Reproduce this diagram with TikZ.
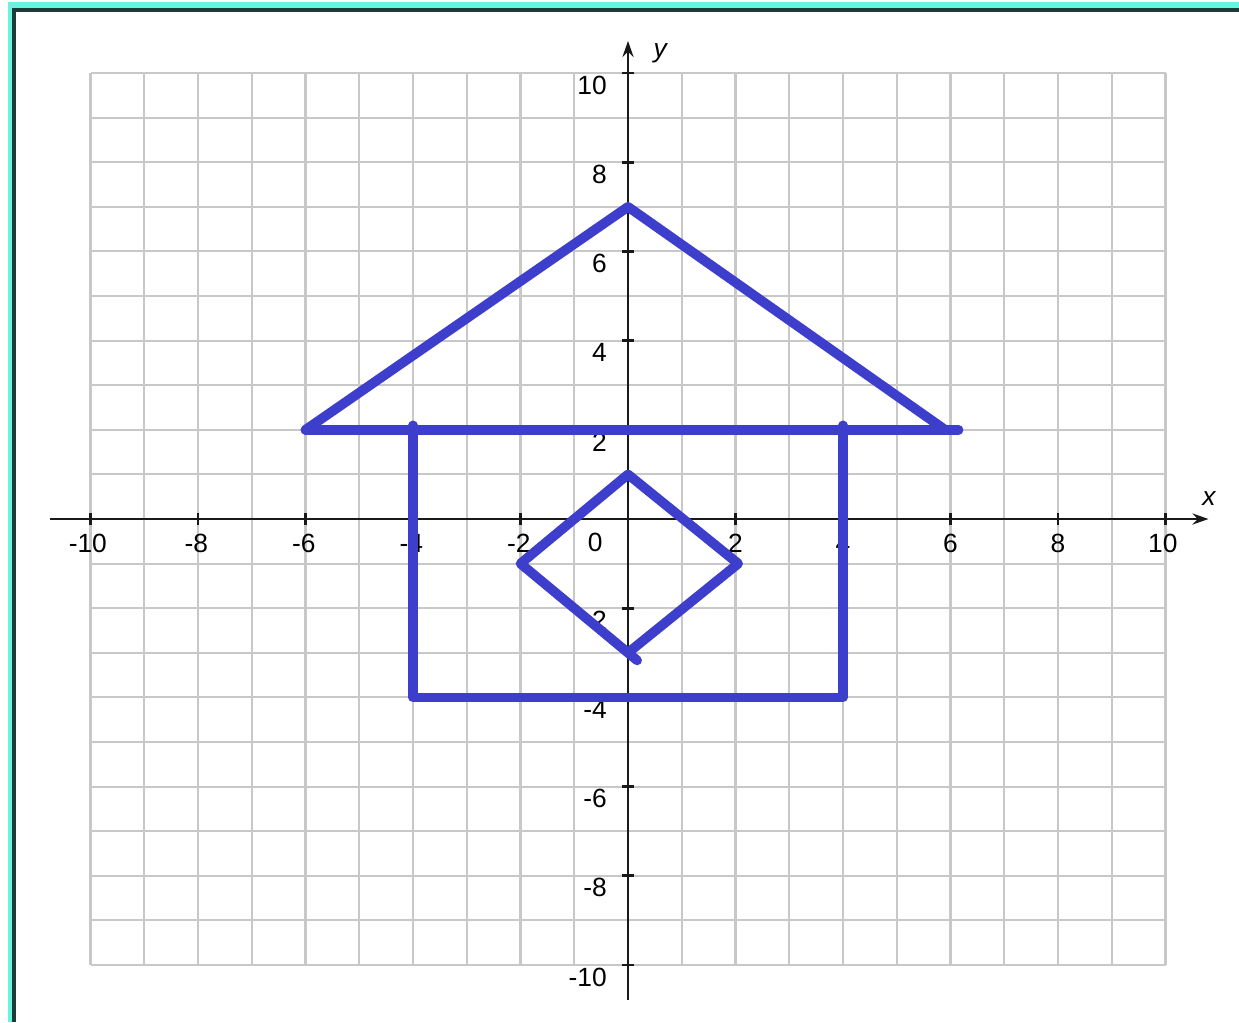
\documentclass[tikz,border=0pt]{standalone}
\usepackage{fontspec}
\setmainfont{Liberation Sans}
\usetikzlibrary{arrows.meta}
\definecolor{houseblue}{RGB}{62,62,204}
\definecolor{gridgray}{RGB}{200,200,200}
\definecolor{frameteal}{RGB}{102,245,224}
\definecolor{framedark}{RGB}{31,59,56}
\begin{document}
\begin{tikzpicture}[x=1.075cm,y=0.892cm,line width=1.6pt,font=\fontsize{15}{18}\selectfont,
  ticklab/.style={inner sep=0pt},
  ylab/.style={anchor=east,inner sep=0pt},
  house/.style={draw=houseblue,line width=5.5pt,line cap=round,line join=round}]
\useasboundingbox (-11.684,-11.278) rectangle (11.367,11.637);
\fill[frameteal] (-11.535,11.457) rectangle (11.367,11.592);
\fill[frameteal] (-11.535,-11.278) rectangle (-11.460,11.592);
\fill[framedark] (-11.460,11.368) rectangle (11.367,11.457);
\fill[framedark] (-11.460,-11.278) rectangle (-11.386,11.457);
\draw[gridgray,line width=1.2pt,step={(1,1)}] (-10,-10) grid (10,10);
% axes
\draw[black!90,-{Stealth[length=3.2mm,width=2.2mm]}] (-10.75,0)--(10.8,0);
\draw[black!90,-{Stealth[length=3.2mm,width=2.2mm]}] (0,-10.78)--(0,10.72);
\draw[black!90] (-10,-.13)--(-10,.13) (-8,-.13)--(-8,.13) (-6,-.13)--(-6,.13)
  (-4,-.13)--(-4,.13) (-2,-.13)--(-2,.13) (2,-.13)--(2,.13) (4,-.13)--(4,.13)
  (6,-.13)--(6,.13) (8,-.13)--(8,.13) (10,-.13)--(10,.13);
\draw[black!90] (-.11,-10)--(.11,-10) (-.11,-8)--(.11,-8) (-.11,-6)--(.11,-6)
  (-.11,-4)--(.11,-4) (-.11,-2)--(.11,-2) (-.11,2)--(.11,2) (-.11,4)--(.11,4)
  (-.11,6)--(.11,6) (-.11,8)--(.11,8) (-.11,10)--(.11,10);
\node[ticklab] (xm10) at (-10.05,-.54) {-10};
\node[ticklab] (xm8) at (-8.03,-.54) {-8};
\node[ticklab] (xm6) at (-6.03,-.54) {-6};
\node[ticklab] (xm4) at (-4.03,-.54) {-4};
\node[ticklab] (xm2) at (-2.03,-.54) {-2};
\node[ticklab] (xp2) at (2,-.54) {2};
\node[ticklab] (xp4) at (4,-.54) {4};
\node[ticklab] (xp6) at (6,-.54) {6};
\node[ticklab] (xp8) at (8,-.54) {8};
\node[ticklab] (xp10) at (9.95,-.54) {10};
\node[ticklab] (orig) at (-.61,-.52) {0};
\node[ylab] (yp10) at (-.37,9.73) {10};
\node[ylab] (yp8) at (-.37,7.73) {8};
\node[ylab] (yp6) at (-.37,5.73) {6};
\node[ylab] (yp4) at (-.37,3.73) {4};
\node[ylab] (yp2) at (-.37,1.73) {2};
\node[ylab] (ym2) at (-.37,-2.27) {-2};
\node[ylab] (ym4) at (-.37,-4.27) {-4};
\node[ylab] (ym6) at (-.37,-6.27) {-6};
\node[ylab] (ym8) at (-.37,-8.27) {-8};
\node[ylab] (ym10) at (-.37,-10.27) {-10};
\node[ticklab] (xname) at (10.81,.47) {\itshape x};
\node[ticklab] (yname) at (.6,10.45) {\itshape y};
% house
\coordinate (roofL) at (-6,2);
\coordinate (roofT) at (0,7);
\coordinate (roofR) at (5.9,2);
\coordinate (eaveR) at (6.15,2);
\coordinate (wallTL) at (-4,2.1);
\coordinate (wallBL) at (-4,-4);
\coordinate (wallBR) at (4,-4);
\coordinate (wallTR) at (4,2.1);
\coordinate (winT) at (0,1);
\coordinate (winR) at (2.05,-1);
\coordinate (winB) at (0,-3);
\coordinate (winL) at (-2,-1);
\coordinate (winEnd) at (.17,-3.17);
\draw[house] (roofL)--(roofT)--(roofR);
\draw[house] (roofL)--(eaveR);
\draw[house] (wallTL)--(wallBL)--(wallBR)--(wallTR);
\draw[house] (winB)--(winR)--(winT)--(winL)--(winEnd);
\end{tikzpicture}
\end{document}
